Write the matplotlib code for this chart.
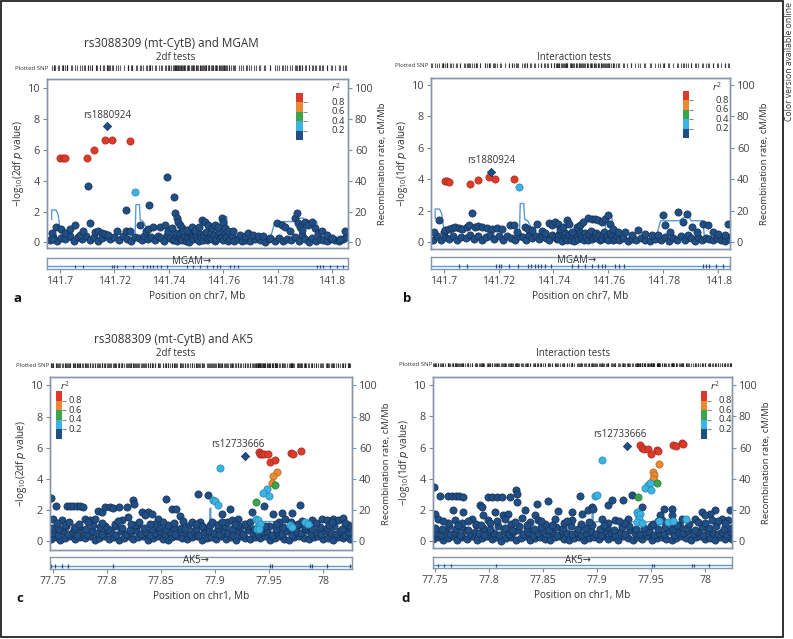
import matplotlib
matplotlib.use("Agg")
import matplotlib.pyplot as plt
from matplotlib.patches import Rectangle

plt.rcParams["font.family"] = ["Open Sans", "DejaVu Sans"]
plt.rcParams["mathtext.default"] = "regular"

W, H = 793, 639

# LD bins (r2) and colours used for the points and the legend bar
ld_edges = [0.0, 0.2, 0.4, 0.6, 0.8, 1.0]
ld_colors = ["#1f4f85", "#3bb3e3", "#3aa54b", "#e98a35", "#dc3b2c"]
ld_edge_colors = ["#152f52", "#2a86ad", "#287a38", "#b0631f", "#a8291d"]
ld_labels = ["0.2", "0.4", "0.6", "0.8"]

# ---------------- MGAM region (chr7) ----------------
mgam_xticks = [141.70, 141.72, 141.74, 141.76, 141.78, 141.80]
mgam_xticklabels = ["141.7", "141.72", "141.74", "141.76", "141.78", "141.8"]
mgam_exons = [141.7055, 141.7085, 141.7190, 141.7200, 141.7208, 141.7239, 141.7270,
              141.7306, 141.7318, 141.7331, 141.7343, 141.7355, 141.7370, 141.7392,
              141.7466, 141.7490, 141.7515, 141.7539, 141.7564, 141.7576, 141.7588,
              141.7625, 141.7640, 141.7656, 141.7944, 141.7956, 141.7968, 141.7993,
              141.8017, 141.8042]
mgam_recomb = [(141.6969, 15.0), (141.6969, 21.0), (141.6985, 21.0), (141.6993, 18.0),
               (141.7000, 9.0), (141.7003, 1.3), (141.7172, 1.3), (141.7196, 2.8),
               (141.7245, 3.9), (141.7276, 4.5), (141.7279, 24.5), (141.7292, 24.5),
               (141.7295, 14.6), (141.7306, 13.5), (141.7319, 9.2), (141.7328, 2.8),
               (141.7588, 2.8), (141.7592, 16.7), (141.7613, 16.7), (141.7615, 2.8),
               (141.7772, 1.7), (141.7790, 13.5), (141.7858, 13.5), (141.7876, 15.7),
               (141.7895, 15.7), (141.7901, 13.5), (141.7944, 13.5), (141.7950, 2.8),
               (141.8051, 2.4)]
# low-signal SNPs (r2 < 0.2), same SNP set in both MGAM tests
mgam_base = [(141.6962, 0.15), (141.6975, 0.35), (141.6990, 0.10), (141.7005, 0.30),
             (141.7020, 0.20), (141.7035, 0.40), (141.7050, 0.12), (141.7065, 0.32),
             (141.7080, 0.22), (141.7095, 0.42), (141.7110, 0.18), (141.7125, 0.38),
             (141.7140, 0.10), (141.7155, 0.30), (141.7170, 0.45), (141.7185, 0.20),
             (141.7200, 0.35), (141.7215, 0.15), (141.7230, 0.40), (141.7245, 0.25),
             (141.7260, 0.12), (141.7275, 0.38), (141.7290, 0.30), (141.7300, 0.15),
             (141.7310, 0.42), (141.7322, 0.25), (141.7335, 0.35), (141.7348, 0.18),
             (141.7360, 0.40), (141.7372, 0.28), (141.7383, 0.12), (141.7395, 0.45),
             (141.7405, 0.30), (141.7414, 0.18), (141.7418, 0.25), (141.7422, 0.50),
             (141.7426, 0.62), (141.7430, 0.08), (141.7438, 0.35), (141.7442, 0.55),
             (141.7446, 0.22), (141.7450, 0.15), (141.7455, 0.45), (141.7463, 0.12),
             (141.7468, 0.60), (141.7472, 0.30), (141.7476, 0.05), (141.7480, 0.55),
             (141.7485, 0.35), (141.7490, 0.20), (141.7495, 0.65), (141.7500, 0.40),
             (141.7505, 0.25), (141.7510, 0.10), (141.7515, 0.55), (141.7520, 0.32),
             (141.7525, 0.15), (141.7530, 0.50), (141.7535, 0.70), (141.7540, 0.18),
             (141.7545, 0.30), (141.7550, 0.38), (141.7555, 0.60), (141.7560, 0.25),
             (141.7565, 0.45), (141.7570, 0.10), (141.7575, 0.20), (141.7580, 0.45),
             (141.7585, 0.65), (141.7590, 0.28), (141.7595, 0.35), (141.7600, 0.15),
             (141.7605, 0.55), (141.7612, 0.35), (141.7618, 0.10), (141.7625, 0.20),
             (141.7632, 0.40), (141.7640, 0.12), (141.7655, 0.25), (141.7670, 0.08),
             (141.7685, 0.18), (141.7700, 0.10), (141.7718, 0.22), (141.7735, 0.15),
             (141.7752, 0.05), (141.7770, 0.20), (141.7790, 0.12), (141.7805, 0.30),
             (141.7820, 0.08), (141.7835, 0.25), (141.7850, 0.15), (141.7865, 0.35),
             (141.7878, 0.10), (141.7890, 0.45), (141.7902, 0.22), (141.7915, 0.05),
             (141.7928, 0.30), (141.7942, 0.12), (141.7955, 0.25), (141.7968, 0.18),
             (141.7982, 0.10), (141.7995, 0.22), (141.8010, 0.15), (141.8025, 0.08),
             (141.8040, 0.20), (141.8050, 0.35)]

# panel a: 2df tests
mgam_2df_low = [(141.6969, 0.60), (141.6969, 0.24), (141.6985, 1.03), (141.7002, 0.88),
                (141.7018, 0.58), (141.7037, 0.88), (141.7055, 1.14), (141.7074, 0.49),
                (141.7086, 0.71), (141.7110, 1.24), (141.7129, 0.67), (141.7141, 0.71),
                (141.7153, 0.58), (141.7165, 0.56), (141.7178, 0.49), (141.7208, 0.71),
                (141.7243, 0.75), (141.7257, 0.71), (141.7294, 1.14), (141.7316, 0.75),
                (141.7325, 0.88), (141.7343, 0.97), (141.7368, 1.03), (141.7386, 1.14),
                (141.7398, 0.71), (141.7411, 0.92), (141.7423, 1.89), (141.7429, 1.57),
                (141.7435, 1.35), (141.7441, 1.14), (141.7447, 0.92), (141.7453, 0.71),
                (141.7466, 0.82), (141.7484, 1.03), (141.7496, 0.82), (141.7512, 1.03),
                (141.7521, 1.46), (141.7533, 1.35), (141.7545, 1.14), (141.7558, 0.92),
                (141.7570, 1.14), (141.7582, 1.03), (141.7594, 1.57), (141.7600, 1.35),
                (141.7607, 0.92), (141.7619, 0.71), (141.7637, 0.71), (141.7662, 0.49),
                (141.7680, 0.39), (141.7692, 0.60), (141.7711, 0.49), (141.7729, 0.39),
                (141.7748, 0.39), (141.7772, 0.28), (141.7797, 1.24), (141.7815, 1.14),
                (141.7827, 0.97), (141.7846, 0.71), (141.7864, 1.57), (141.7870, 1.89),
                (141.7876, 1.24), (141.7882, 1.03), (141.7888, 0.82), (141.7901, 1.35),
                (141.7913, 1.14), (141.7925, 1.35), (141.7938, 0.92), (141.7950, 0.60),
                (141.7962, 0.71), (141.7980, 0.49), (141.7999, 0.28), (141.8029, 0.24),
                (141.8048, 0.71), (141.7103, 3.67), (141.7392, 4.21), (141.7419, 2.96),
                (141.7327, 2.42), (141.7244, 2.12)]
mgam_2df_ld = [(141.7000, 5.47, 0.9), (141.7010, 5.47, 0.9), (141.7018, 5.47, 0.9),
               (141.7098, 5.47, 0.9), (141.7125, 5.97, 0.9), (141.7167, 6.65, 0.9),
               (141.7190, 6.65, 0.9), (141.7259, 6.59, 0.9), (141.7277, 3.28, 0.3)]
mgam_2df_index = (141.7174, 7.51)

# panel b: interaction tests
mgam_int_low = [(141.6964, 0.64), (141.6982, 1.38), (141.7000, 0.64), (141.7006, 0.74),
                (141.7018, 0.85), (141.7030, 0.89), (141.7042, 0.96), (141.7055, 0.89),
                (141.7067, 0.81), (141.7085, 0.96), (141.7091, 1.06), (141.7115, 0.96),
                (141.7127, 1.02), (141.7139, 0.96), (141.7158, 0.89), (141.7176, 0.81),
                (141.7194, 0.89), (141.7212, 0.85), (141.7242, 1.11), (141.7255, 1.06),
                (141.7267, 0.64), (141.7297, 0.96), (141.7309, 0.85), (141.7321, 0.74),
                (141.7339, 1.17), (141.7358, 0.68), (141.7370, 0.60), (141.7382, 1.23),
                (141.7394, 1.06), (141.7406, 1.28), (141.7418, 1.17), (141.7424, 0.85),
                (141.7436, 0.96), (141.7448, 1.38), (141.7455, 1.17), (141.7467, 0.64),
                (141.7485, 0.96), (141.7497, 1.11), (141.7509, 1.28), (141.7527, 1.53),
                (141.7539, 1.45), (141.7552, 1.49), (141.7564, 1.38), (141.7576, 1.28),
                (141.7588, 1.49), (141.7598, 1.70), (141.7606, 1.17), (141.7618, 0.85),
                (141.7636, 0.64), (141.7661, 0.64), (141.7685, 0.43), (141.7709, 0.74),
                (141.7733, 0.53), (141.7758, 0.47), (141.7782, 0.43), (141.7800, 1.74),
                (141.7806, 1.11), (141.7824, 0.64), (141.7855, 1.91), (141.7873, 1.28),
                (141.7885, 1.81), (141.7903, 0.96), (141.7921, 0.64), (141.7945, 1.17),
                (141.7964, 1.06), (141.7982, 0.64), (141.8000, 0.53), (141.8024, 0.43),
                (141.8036, 1.17), (141.7103, 1.85)]
mgam_int_ld = [(141.7006, 3.87, 0.9), (141.7012, 3.87, 0.9), (141.7018, 3.85, 0.9),
               (141.7097, 3.72, 0.9), (141.7124, 3.94, 0.9), (141.7164, 4.13, 0.9),
               (141.7188, 4.04, 0.9), (141.7255, 4.00, 0.9), (141.7274, 3.51, 0.3)]
mgam_int_index = (141.7172, 4.47)

# ---------------- AK5 region (chr1) ----------------
ak5_xticks = [77.75, 77.80, 77.85, 77.90, 77.95, 78.00]
ak5_xticklabels = ["77.75", "77.8", "77.85", "77.9", "77.95", "78"]
ak5_exons = [77.7482, 77.7521, 77.7583, 77.7644, 77.8060, 77.9508, 77.9523,
             77.9878, 77.9893, 78.0032, 78.0248]
ak5_recomb = [(77.7475, 1.0), (77.8950, 1.0), (77.8952, 21.0), (77.8960, 21.0),
              (77.8962, 12.5), (77.9650, 12.5), (77.9660, 12.0), (78.0265, 12.0)]
# dense band of weak SNPs shared by both AK5 tests
ak5_band = [
    (77.7482, 0.12), (77.7528, 0.28), (77.7571, 0.06), (77.7615, 0.22), (77.7662, 0.33),
    (77.7705, 0.10), (77.7751, 0.25), (77.7796, 0.16), (77.7840, 0.31), (77.7887, 0.08),
    (77.7930, 0.20), (77.7976, 0.35), (77.8021, 0.13), (77.8065, 0.27), (77.8112, 0.05),
    (77.8155, 0.18), (77.8201, 0.30), (77.8246, 0.11), (77.8290, 0.24), (77.8337, 0.34),
    (77.8380, 0.09), (77.8426, 0.21), (77.8471, 0.29), (77.8515, 0.14), (77.8562, 0.07),
    (77.8605, 0.26), (77.8651, 0.32), (77.8696, 0.17), (77.8740, 0.10), (77.8787, 0.23),
    (77.8830, 0.30), (77.8876, 0.06), (77.8921, 0.19), (77.8965, 0.28), (77.9012, 0.12),
    (77.9055, 0.34), (77.9101, 0.15), (77.9146, 0.25), (77.9190, 0.08), (77.9237, 0.31),
    (77.9280, 0.20), (77.9326, 0.11), (77.9371, 0.27), (77.9415, 0.16), (77.9462, 0.33),
    (77.9505, 0.09), (77.9551, 0.22), (77.9596, 0.29), (77.9640, 0.13), (77.9687, 0.07),
    (77.9730, 0.24), (77.9776, 0.35), (77.9821, 0.18), (77.9865, 0.10), (77.9912, 0.26),
    (77.9955, 0.31), (78.0001, 0.14), (78.0046, 0.21), (78.0090, 0.06), (78.0137, 0.28),
    (78.0180, 0.17), (78.0226, 0.32), (78.0248, 0.12),
    (77.7505, 0.52), (77.7550, 0.41), (77.7593, 0.66), (77.7640, 0.47), (77.7684, 0.58),
    (77.7728, 0.39), (77.7773, 0.70), (77.7818, 0.45), (77.7864, 0.61), (77.7908, 0.50),
    (77.7953, 0.43), (77.7998, 0.68), (77.8043, 0.55), (77.8089, 0.40), (77.8133, 0.63),
    (77.8178, 0.48), (77.8223, 0.57), (77.8268, 0.71), (77.8314, 0.44), (77.8358, 0.60),
    (77.8403, 0.38), (77.8448, 0.53), (77.8493, 0.66), (77.8539, 0.46), (77.8583, 0.59),
    (77.8628, 0.42), (77.8673, 0.69), (77.8718, 0.51), (77.8764, 0.45), (77.8808, 0.62),
    (77.8853, 0.40), (77.8898, 0.56), (77.8943, 0.67), (77.8989, 0.49), (77.9033, 0.43),
    (77.9078, 0.64), (77.9123, 0.54), (77.9168, 0.39), (77.9214, 0.61), (77.9258, 0.47),
    (77.9303, 0.70), (77.9348, 0.52), (77.9393, 0.44), (77.9439, 0.58), (77.9483, 0.65),
    (77.9528, 0.41), (77.9573, 0.55), (77.9618, 0.48), (77.9664, 0.63), (77.9708, 0.39),
    (77.9753, 0.60), (77.9798, 0.50), (77.9843, 0.68), (77.9889, 0.45), (77.9933, 0.57),
    (77.9978, 0.42), (78.0023, 0.66), (78.0068, 0.53), (78.0114, 0.47), (78.0158, 0.62),
    (78.0203, 0.40), (78.0240, 0.58),
    (77.7494, 0.85), (77.7560, 0.76), (77.7627, 0.98), (77.7694, 0.80), (77.7738, 0.92),
    (77.7807, 0.74), (77.7875, 1.02), (77.7941, 0.88), (77.8010, 0.78), (77.8078, 0.95),
    (77.8144, 0.83), (77.8212, 0.73), (77.8279, 1.00), (77.8347, 0.86), (77.8414, 0.79),
    (77.8482, 0.93), (77.8550, 0.75), (77.8617, 0.90), (77.8685, 0.82), (77.8752, 0.97),
    (77.8820, 0.77), (77.8887, 0.87), (77.8955, 1.04), (77.9023, 0.81), (77.9090, 0.94),
    (77.9157, 0.74), (77.9226, 0.89), (77.9292, 0.99), (77.9360, 0.78), (77.9428, 0.84),
    (77.9495, 0.96), (77.9563, 0.76), (77.9630, 0.91), (77.9698, 0.80), (77.9765, 1.01),
    (77.9833, 0.86), (77.9900, 0.75), (77.9968, 0.92), (78.0035, 0.83), (78.0102, 0.97),
    (78.0170, 0.79), (78.0235, 0.88)]

# panel c: 2df tests
ak5_2df_low = [(77.7484, 2.77), (77.7531, 2.23), (77.7629, 2.23), (77.7660, 2.25),
               (77.7691, 2.23), (77.7722, 2.25), (77.7753, 2.23), (77.7783, 2.19),
               (77.7922, 1.91), (77.7953, 1.87), (77.7984, 2.19), (77.8030, 2.19),
               (77.8061, 2.12), (77.8113, 2.19), (77.8184, 2.19), (77.8246, 2.62),
               (77.8255, 2.40), (77.8323, 1.87), (77.8384, 1.87), (77.8421, 1.76),
               (77.8544, 2.70), (77.8600, 2.04), (77.8637, 2.04), (77.8677, 1.61),
               (77.8846, 3.05), (77.8862, 1.22), (77.8939, 2.98), (77.9062, 1.76),
               (77.9139, 2.08), (77.9216, 1.44), (77.9339, 1.87), (77.9453, 2.23),
               (77.9539, 1.76), (77.9622, 1.82), (77.9709, 1.80), (77.9786, 2.30),
               (77.7506, 1.44), (77.7583, 1.33), (77.7799, 1.44), (77.7845, 1.33),
               (77.7891, 1.44), (77.8076, 1.12), (77.8138, 1.33), (77.8199, 1.55),
               (77.8353, 1.65), (77.8477, 1.44), (77.8723, 0.79), (77.8785, 1.22),
               (77.8970, 1.22), (77.9108, 1.22), (77.9154, 1.33), (77.9278, 1.12),
               (77.9586, 1.22), (77.9647, 1.44), (77.9770, 1.12), (77.9894, 1.33),
               (77.9986, 1.44), (78.0032, 1.33), (78.0094, 1.44), (78.0140, 1.33),
               (78.0186, 1.50), (78.0232, 1.01), (77.7614, 1.01), (77.7706, 0.90),
               (77.7984, 0.97), (77.8261, 1.05), (77.8446, 1.12), (77.8569, 1.01),
               (77.8877, 0.97), (77.9031, 1.01), (77.9216, 1.05), (77.9462, 0.97),
               (77.9832, 0.97), (78.0048, 1.05), (77.7540, 1.15), (77.7650, 1.25),
               (77.7740, 1.10), (77.7830, 1.20), (77.7960, 1.15), (77.8100, 1.28),
               (77.8220, 1.12), (77.8300, 1.22), (77.8400, 1.10), (77.8520, 1.25),
               (77.8620, 1.15), (77.8700, 1.30), (77.8820, 1.10), (77.9060, 1.25),
               (77.9180, 1.12), (77.9320, 1.20), (77.9560, 1.12), (77.9700, 1.25),
               (77.9800, 1.30), (77.9930, 1.15), (78.0080, 1.22), (78.0200, 1.18)]
ak5_2df_ld = [(77.9410, 5.73, 0.9), (77.9416, 5.62, 0.9), (77.9432, 5.56, 0.9),
              (77.9456, 5.60, 0.9), (77.9487, 5.56, 0.9), (77.9509, 5.09, 0.9),
              (77.9555, 5.19, 0.9), (77.9703, 5.67, 0.9), (77.9724, 5.62, 0.9),
              (77.9795, 5.77, 0.9), (77.9576, 4.44, 0.7), (77.9533, 4.16, 0.7),
              (77.9524, 3.73, 0.7), (77.9555, 3.63, 0.5), (77.9376, 2.51, 0.5),
              (77.9047, 4.66, 0.3), (77.9478, 3.37, 0.3), (77.9447, 3.11, 0.3),
              (77.9499, 2.88, 0.3), (77.8979, 2.62, 0.3), (77.9000, 2.58, 0.3),
              (77.9025, 2.34, 0.3), (77.9376, 1.44, 0.3), (77.9395, 1.33, 0.3),
              (77.9401, 0.97, 0.3), (77.9385, 0.75, 0.3), (77.9416, 1.12, 0.3),
              (77.9407, 0.79, 0.3), (77.9693, 1.01, 0.3), (77.9715, 0.90, 0.3),
              (77.9832, 1.22, 0.3), (77.9863, 1.12, 0.3)]
ak5_2df_index = (77.9278, 5.47)

# panel d: interaction tests
ak5_int_low = [(77.7491, 3.48), (77.7543, 2.91), (77.7620, 2.91), (77.7651, 2.91),
               (77.7688, 2.91), (77.7719, 2.91), (77.7759, 2.84), (77.7985, 2.84),
               (77.8022, 2.84), (77.8068, 2.84), (77.8120, 2.84), (77.8191, 2.84),
               (77.8244, 3.27), (77.8253, 3.06), (77.8253, 2.52), (77.8438, 2.41),
               (77.8540, 2.56), (77.8840, 2.91), (77.8948, 2.20), (77.9102, 2.31),
               (77.9139, 2.63), (77.9241, 2.63), (77.9318, 2.95), (77.9410, 2.20),
               (77.9620, 2.09), (77.9694, 2.09), (77.9580, 1.67), (77.9694, 1.67),
               (77.7497, 1.77), (77.7667, 1.99), (77.7759, 1.88), (77.7914, 2.31),
               (77.7929, 2.20), (77.7944, 1.67), (77.8052, 1.88), (77.8130, 1.67),
               (77.8176, 1.77), (77.8330, 1.99), (77.8423, 1.67), (77.8633, 1.92),
               (77.8762, 1.88), (77.8855, 1.77), (77.8917, 1.99), (77.8963, 2.09),
               (77.9966, 1.88), (78.0090, 2.03), (78.0228, 2.03), (78.0043, 1.77),
               (77.9997, 1.67), (77.7528, 1.45), (77.7682, 1.35), (77.7836, 1.45),
               (77.7991, 1.35), (77.8145, 1.45), (77.8299, 1.50), (77.8454, 1.35),
               (77.8608, 1.45), (77.8762, 1.35), (77.9040, 1.41), (77.9164, 1.35),
               (77.9287, 1.45), (77.9596, 1.35), (77.9781, 1.45), (77.9904, 1.41),
               (78.0059, 1.35), (78.0151, 1.45), (78.0213, 1.35), (77.7614, 1.15),
               (77.7745, 1.20), (77.7880, 1.10), (77.8010, 1.18), (77.8200, 1.12),
               (77.8380, 1.22), (77.8520, 1.10), (77.8690, 1.18), (77.8850, 1.12),
               (77.9100, 1.15), (77.9250, 1.20), (77.9520, 1.10), (77.9680, 1.18),
               (77.9850, 1.12), (78.0000, 1.20), (78.0180, 1.15), (77.7570, 1.28),
               (77.7710, 1.05), (77.7800, 1.30), (77.7920, 1.02), (77.8070, 1.30),
               (77.8240, 1.25), (77.8350, 1.05), (77.8480, 1.28), (77.8580, 1.02),
               (77.8720, 1.30), (77.8920, 1.25), (77.9060, 1.05), (77.9200, 1.30),
               (77.9560, 1.28), (77.9740, 1.05), (77.9930, 1.25), (78.0120, 1.28)]
ak5_int_ld = [(77.9395, 6.15, 0.9), (77.9410, 5.98, 0.9), (77.9435, 5.90, 0.9),
              (77.9472, 5.94, 0.9), (77.9497, 5.62, 0.9), (77.9549, 5.83, 0.9),
              (77.9565, 5.81, 0.9), (77.9704, 6.15, 0.9), (77.9725, 6.11, 0.9),
              (77.9781, 6.30, 0.9), (77.9796, 6.22, 0.9), (77.9574, 4.94, 0.7),
              (77.9519, 4.44, 0.7), (77.9525, 4.23, 0.7), (77.9519, 4.02, 0.7),
              (77.9549, 3.74, 0.5), (77.9373, 2.84, 0.5), (77.9040, 5.24, 0.3),
              (77.9472, 3.59, 0.3), (77.9488, 3.74, 0.3), (77.9441, 3.44, 0.3),
              (77.9494, 3.27, 0.3), (77.8978, 2.91, 0.3), (77.8997, 2.95, 0.3),
              (77.9364, 1.88, 0.3), (77.9373, 1.71, 0.3), (77.9395, 1.77, 0.3),
              (77.9386, 1.45, 0.3), (77.9364, 1.24, 0.3), (77.9410, 1.20, 0.3),
              (77.9571, 1.30, 0.3), (77.9657, 1.24, 0.3), (77.9704, 1.30, 0.3),
              (77.9818, 1.41, 0.3)]
ak5_int_index = (77.9275, 6.13)


def ld_bin(r2):
    for i in range(len(ld_colors)):
        if r2 < ld_edges[i + 1]:
            return i
    return len(ld_colors) - 1


def px_rect(l, t, r, b):
    return [l / W, 1 - b / H, (r - l) / W, (b - t) / H]


TXT = "#333333"
SPINE = "#8796a8"
RECOMB = "#5b9bd5"


def draw_panel(fig, p):
    ax = fig.add_axes(px_rect(*p["main"]))
    ax2 = ax.twinx()
    ax.set_zorder(ax2.get_zorder() + 1)
    ax.patch.set_visible(False)

    # recombination rate on the right axis
    rx, rr = zip(*p["recomb"])
    ax2.plot(rx, rr, color=RECOMB, lw=1.0)
    ax2.set_ylim(p["ylim"][0] * 10, p["ylim"][1] * 10)
    ax2.set_yticks([0, 20, 40, 60, 80, 100])
    ax2.tick_params(axis="y", length=3, color=RECOMB, labelsize=7.8, labelcolor="#444444", pad=2)
    ax2.set_ylabel("Recombination rate, cM/Mb", fontsize=6.8, color=TXT, labelpad=3)

    pts = p["base"] + p["low"]
    bx, by = zip(*pts)
    ax.scatter(bx, by, s=27, c=ld_colors[0], edgecolors=ld_edge_colors[0], linewidths=0.5, zorder=2)
    for pos, val, r2 in p["ld"]:
        k = ld_bin(r2)
        ax.scatter(pos, val, s=27, c=ld_colors[k], edgecolors=ld_edge_colors[k],
                   linewidths=0.5, zorder=3)
    ix, iy = p["index"]
    ax.scatter(ix, iy, marker="D", s=18, c=ld_colors[0], edgecolors=ld_edge_colors[0],
               linewidths=0.5, zorder=4)
    ax.annotate(p["index_name"], (ix, iy), xytext=(p["label_dx"], 4), textcoords="offset points",
                ha="center", va="bottom", fontsize=7, color=TXT)

    ax.set_xlim(p["xlim"])
    ax.set_ylim(p["ylim"])
    ax.set_yticks([0, 2, 4, 6, 8, 10])
    ax.set_xticks([])
    ax.tick_params(axis="y", length=3, color="#888888", labelsize=7.8, labelcolor="#444444", pad=2)
    ax.set_ylabel(p["ylabel"], fontsize=7.2, color=TXT, labelpad=1)
    for a in (ax, ax2):
        for s in a.spines.values():
            s.set_color(SPINE)
            s.set_linewidth(1.0)

    # r2 legend bar
    x0, y0, w, h, lab_x, r2x, r2y = p["legend"]
    cax = ax.inset_axes([x0, y0, w, h])
    for i, col in enumerate(ld_colors):
        cax.bar(0, ld_edges[i + 1] - ld_edges[i], bottom=ld_edges[i], width=1.0,
                color=col, edgecolor="none")
    cax.set_xlim(-0.5, 0.5)
    cax.set_ylim(0, 1)
    cax.set_xticks([])
    cax.yaxis.tick_right()
    cax.set_yticks(ld_edges[1:-1])
    cax.set_yticklabels([])
    cax.tick_params(axis="y", length=3, color="#888888")
    for s in cax.spines.values():
        s.set_visible(False)
    for b, lab in zip(ld_edges[1:-1], ld_labels):
        ax.text(lab_x, y0 + h * b, lab, transform=ax.transAxes, ha="right", va="center",
                fontsize=6.8, color=TXT)
    ax.text(r2x, r2y, r"$\mathit{r}^2$", transform=ax.transAxes, ha="center", va="center",
            fontsize=6.8, color=TXT)

    # gene track
    gx = fig.add_axes(px_rect(*p["gene"]))
    gx.set_xlim(p["xlim"])
    gx.set_ylim(0, 1)
    gx.axhline(0.25, color=RECOMB, lw=1.0)
    gx.vlines(p["exons"], 0.1, 0.4, color=ld_colors[0], lw=0.9)
    gx.text(p["gene_pos"], 0.72, p["gene_name"] + "\u2192", ha="center", va="center",
            fontsize=7, color=TXT)
    gx.set_yticks([])
    gx.set_xticks(p["xticks"])
    gx.set_xticklabels(p["xticklabels"])
    gx.tick_params(axis="x", length=3, color="#888888", labelsize=7.6, labelcolor="#444444", pad=2)
    gx.set_xlabel(p["xlabel"], fontsize=7.2, color=TXT, labelpad=3)
    for s in gx.spines.values():
        s.set_color(SPINE)
        s.set_linewidth(1.0)

    # plotted SNP strip
    sx = fig.add_axes(px_rect(*p["strip"]))
    allx = list(bx) + [q[0] for q in p["ld"]] + [ix]
    sx.vlines(allx, 0, 1, color="#1a1a1a", lw=0.8, alpha=0.7)
    sx.set_xlim(p["xlim"])
    sx.set_ylim(0, 1)
    sx.axis("off")
    sl, st, sr, sb = p["strip"]
    fig.text((sl - 1) / W, 1 - (st + sb) / 2 / H, "Plotted SNP", ha="right", va="center",
             fontsize=4.3, color=TXT)

    # titles and panel letter
    for txt, (cx, cy), fs in p["titles"]:
        fig.text(cx / W, 1 - cy / H, txt, ha="center", va="center", fontsize=fs, color=TXT)
    lx, ly = p["letter_xy"]
    fig.text(lx / W, 1 - ly / H, p["letter"], ha="left", va="center", fontsize=9.5,
             fontweight="bold", color="#111111")


ylab_2df = "\u2212log$_{10}$(2df $\\mathit{p}$ value)"
ylab_1df = "\u2212log$_{10}$(1df $\\mathit{p}$ value)"

panels = [
    dict(main=(47, 79, 348, 248), gene=(47, 258, 348, 269), strip=(49, 65, 348, 71),
         xlim=(141.6952, 141.8059), ylim=(-0.36, 10.58), recomb=mgam_recomb,
         base=mgam_base, low=mgam_2df_low, ld=mgam_2df_ld, index=mgam_2df_index,
         index_name="rs1880924", label_dx=0, ylabel=ylab_2df,
         legend=(0.827, 0.639, 0.023, 0.278, 0.99, 0.96, 0.947),
         exons=mgam_exons, gene_name="MGAM", gene_pos=141.7485,
         xticks=mgam_xticks, xticklabels=mgam_xticklabels, xlabel="Position on chr7, Mb",
         titles=[("rs3088309 (mt-CytB) and MGAM", (171, 43), 8.4), ("2df tests", (176, 57), 7)],
         letter="a", letter_xy=(13, 299)),
    dict(main=(431, 78, 730, 249), gene=(431, 257, 730, 269), strip=(429, 63, 730, 68),
         xlim=(141.6954, 141.8043), ylim=(-0.45, 10.45), recomb=mgam_recomb,
         base=mgam_base, low=mgam_int_low, ld=mgam_int_ld, index=mgam_int_index,
         index_name="rs1880924", label_dx=0, ylabel=ylab_1df,
         legend=(0.842, 0.647, 0.022, 0.277, 0.997, 0.957, 0.949),
         exons=mgam_exons, gene_name="MGAM", gene_pos=141.7485,
         xticks=mgam_xticks, xticklabels=mgam_xticklabels, xlabel="Position on chr7, Mb",
         titles=[("Interaction tests", (574, 57), 7)],
         letter="b", letter_xy=(403, 299)),
    dict(main=(50, 377, 352, 550), gene=(50, 557, 352, 569), strip=(50, 363, 352, 368),
         xlim=(77.7475, 78.0265), ylim=(-0.58, 10.54), recomb=ak5_recomb,
         base=ak5_band, low=ak5_2df_low, ld=ak5_2df_ld, index=ak5_2df_index,
         index_name="rs12733666", label_dx=-5, ylabel=ylab_2df,
         legend=(0.020, 0.643, 0.021, 0.274, 0.105, 0.05, 0.952),
         exons=ak5_exons, gene_name="AK5", gene_pos=77.8824,
         xticks=ak5_xticks, xticklabels=ak5_xticklabels, xlabel="Position on chr1, Mb",
         titles=[("rs3088309 (mt-CytB) and AK5", (174, 340), 8.4), ("2df tests", (176, 354), 7)],
         letter="c", letter_xy=(16, 598)),
    dict(main=(433, 377, 732, 548), gene=(433, 557, 732, 568), strip=(433, 363, 732, 367),
         xlim=(77.7479, 78.0247), ylim=(-0.43, 10.53), recomb=ak5_recomb,
         base=ak5_band, low=ak5_int_low, ld=ak5_int_ld, index=ak5_int_index,
         index_name="rs12733666", label_dx=-5, ylabel=ylab_1df,
         legend=(0.895, 0.639, 0.022, 0.277, 1.0, 0.942, 0.951),
         exons=ak5_exons, gene_name="AK5", gene_pos=77.8824,
         xticks=ak5_xticks, xticklabels=ak5_xticklabels, xlabel="Position on chr1, Mb",
         titles=[("Interaction tests", (573, 354), 7)],
         letter="d", letter_xy=(401, 598)),
]

fig = plt.figure(figsize=(W / 100, H / 100), dpi=100)
for p in panels:
    draw_panel(fig, p)

# outer frame and side note
fig.add_artist(Rectangle((1 / W, 2 / H), 782 / W, 636 / H, transform=fig.transFigure,
                         fill=False, edgecolor="#111111", lw=1.2))
fig.text(789 / W, 1 - 2 / H, "Color version available online", rotation=90,
         ha="center", va="top", fontsize=6.2, color=TXT)

fig.savefig("out.png", dpi=100)
